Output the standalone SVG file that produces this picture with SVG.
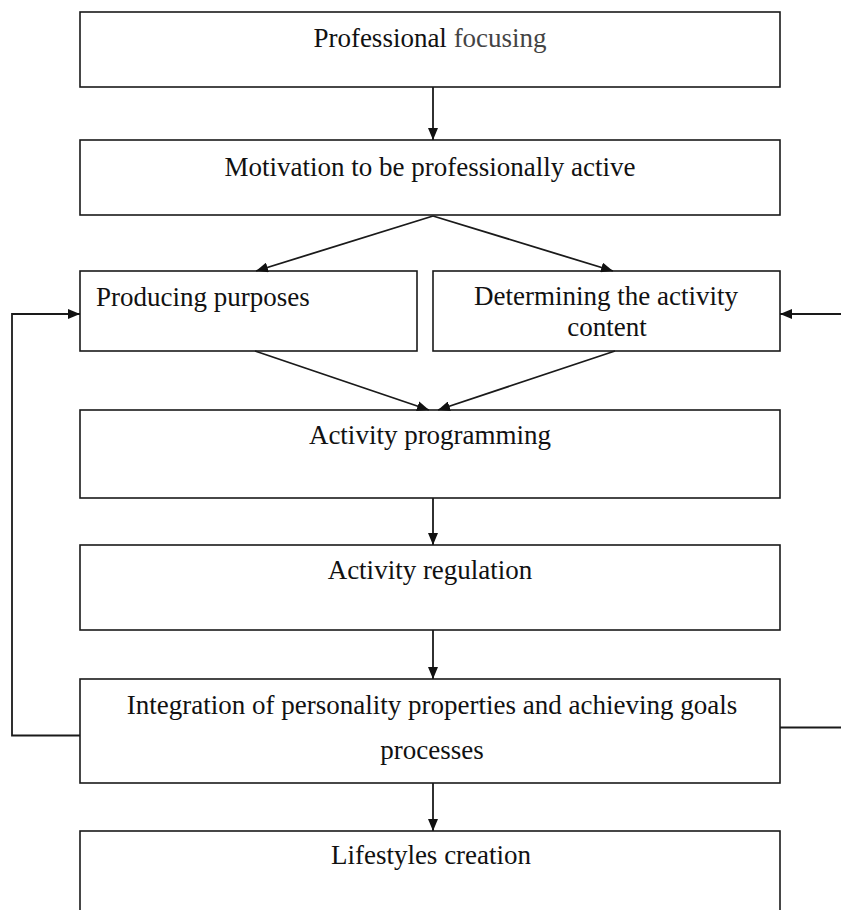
<svg xmlns="http://www.w3.org/2000/svg" width="841" height="910" viewBox="0 0 841 910">
<style>
.box{fill:#fff;stroke:#1a1a1a;stroke-width:1.6}
.t{font-family:"Liberation Serif","Times New Roman",serif;font-size:27px;fill:#111}
.c{text-anchor:middle}
.ln{fill:none;stroke:#1a1a1a;stroke-width:1.8}
</style>
<defs>
<marker id="ah" viewBox="0 0 12 10" refX="12" refY="5" markerWidth="12" markerHeight="10" markerUnits="userSpaceOnUse" orient="auto">
<path d="M0,0 L12,5 L0,10 z" fill="#111"/>
</marker>
</defs>
<rect width="841" height="910" fill="#fff"/>
<g id="n1"><rect class="box" x="80" y="12" width="700" height="75"/><text class="t c" x="430" y="47">Professional <tspan fill="#444">focusing</tspan></text></g>
<g id="n2"><rect class="box" x="80" y="140" width="700" height="75"/><text class="t c" x="430" y="176">Motivation to be professionally active</text></g>
<g id="n3a"><rect class="box" x="80" y="271" width="337" height="80"/><text class="t" x="96" y="306">Producing purposes</text></g>
<g id="n3b"><rect class="box" x="433" y="271" width="347" height="80"/><text class="t c" x="606" y="305">Determining the activity</text><text class="t c" x="607" y="336">content</text></g>
<g id="n4"><rect class="box" x="80" y="410" width="700" height="88"/><text class="t c" x="430" y="444">Activity programming</text></g>
<g id="n5"><rect class="box" x="80" y="545" width="700" height="85"/><text class="t c" x="430" y="579">Activity regulation</text></g>
<g id="n6"><rect class="box" x="80" y="679" width="700" height="104"/><text class="t c" x="432" y="714">Integration of personality properties and achieving goals</text><text class="t c" x="432" y="759">processes</text></g>
<g id="n7"><rect class="box" x="80" y="831" width="700" height="100"/><text class="t c" x="431" y="864">Lifestyles creation</text></g>
<g id="connectors">
<line class="ln" x1="433" y1="87" x2="433" y2="140" marker-end="url(#ah)"/>
<line class="ln" x1="433" y1="216" x2="256" y2="271" marker-end="url(#ah)"/>
<line class="ln" x1="433" y1="216" x2="613" y2="271" marker-end="url(#ah)"/>
<line class="ln" x1="255" y1="351" x2="429" y2="410" marker-end="url(#ah)"/>
<line class="ln" x1="615" y1="351" x2="438" y2="410" marker-end="url(#ah)"/>
<line class="ln" x1="433" y1="498" x2="433" y2="545" marker-end="url(#ah)"/>
<line class="ln" x1="433" y1="630" x2="433" y2="679" marker-end="url(#ah)"/>
<line class="ln" x1="433" y1="783" x2="433" y2="831" marker-end="url(#ah)"/>
<polyline class="ln" points="80,735.5 12,735.5 12,314 80,314" marker-end="url(#ah)"/>
<line class="ln" x1="780" y1="727.5" x2="841" y2="727.5"/>
<line class="ln" x1="841" y1="314" x2="780" y2="314" marker-end="url(#ah)"/>
</g>
</svg>
